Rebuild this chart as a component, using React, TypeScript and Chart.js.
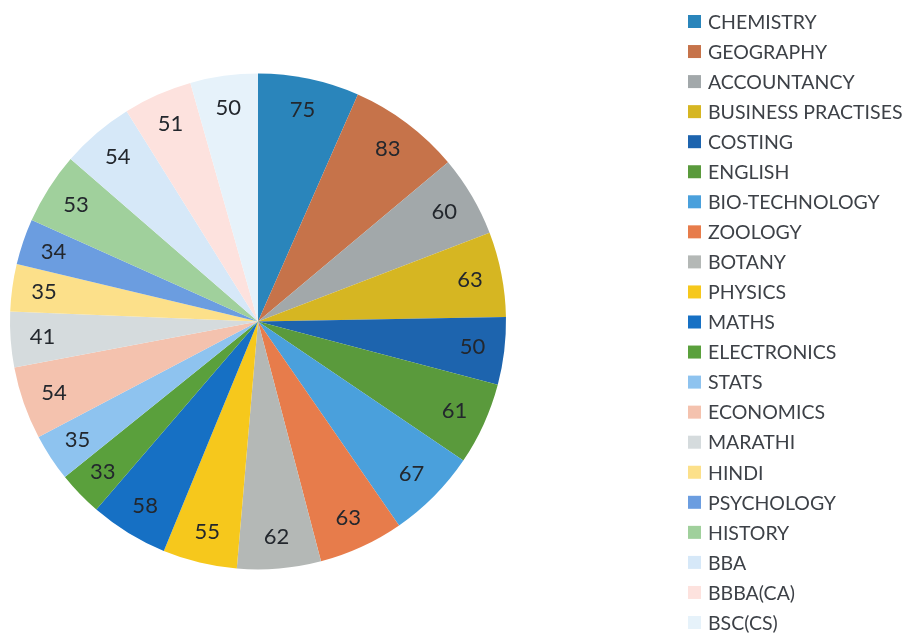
import React, { useEffect, useRef } from "react";
import { Chart, registerables } from "chart.js";

Chart.register(...registerables);

const subjects: string[] = [
  "CHEMISTRY", "GEOGRAPHY", "ACCOUNTANCY", "BUSINESS PRACTISES", "COSTING",
  "ENGLISH", "BIO-TECHNOLOGY", "ZOOLOGY", "BOTANY", "PHYSICS", "MATHS",
  "ELECTRONICS", "STATS", "ECONOMICS", "MARATHI", "HINDI", "PSYCHOLOGY",
  "HISTORY", "BBA", "BBBA(CA)", "BSC(CS)",
];

const values: number[] = [
  75, 83, 60, 63, 50, 61, 67, 63, 62, 55, 58, 33, 35, 54, 41, 35, 34, 53, 54, 51, 50,
];

const sliceColors: string[] = [
  "#2a85bb", "#c6734a", "#a2a8aa", "#d6b622", "#1d64ae", "#5a9a3c", "#4aa0dc",
  "#e77c4b", "#b4b8b6", "#f6c81c", "#1670c4", "#5aa03c", "#8ec3ef", "#f4c2ae",
  "#d5dbdd", "#fce08a", "#6b9de0", "#a0d09c", "#d6e8f8", "#fde2de", "#e6f2fa",
];

const FONT = "Lato, 'Open Sans', sans-serif";

const valueLabelPlugin = {
  id: "valueLabels",
  afterDatasetsDraw(chart: any) {
    const ctx = chart.ctx;
    const meta = chart.getDatasetMeta(0);
    const data = chart.data.datasets[0].data as number[];
    ctx.save();
    ctx.font = `22px ${FONT}`;
    ctx.fillStyle = "#23272d";
    ctx.textAlign = "center";
    ctx.textBaseline = "middle";
    meta.data.forEach((arc: any, i: number) => {
      const p = arc.getProps(["x", "y", "startAngle", "endAngle", "outerRadius"], true);
      const mid = (p.startAngle + p.endAngle) / 2;
      const r = p.outerRadius - 32;
      ctx.fillText(String(data[i]), p.x + Math.cos(mid) * r, p.y + Math.sin(mid) * r);
    });
    ctx.restore();
  },
};

const sideLegendPlugin = {
  id: "sideLegend",
  afterDraw(chart: any) {
    const ctx = chart.ctx;
    const labels = chart.data.labels as string[];
    const colors = chart.data.datasets[0].backgroundColor as string[];
    ctx.save();
    ctx.font = `19.5px ${FONT}`;
    ctx.textAlign = "left";
    ctx.textBaseline = "middle";
    labels.forEach((lab, i) => {
      const y = 21.5 + i * 30.05;
      ctx.fillStyle = colors[i];
      ctx.fillRect(688, y - 6.5, 13, 13);
      ctx.fillStyle = "#3d4147";
      ctx.fillText(lab, 708, y + 1);
    });
    ctx.restore();
  },
};

export default function App() {
  const canvasRef = useRef<HTMLCanvasElement | null>(null);

  useEffect(() => {
    if (!canvasRef.current) return;
    const chart = new Chart(canvasRef.current, {
      type: "pie",
      data: {
        labels: subjects,
        datasets: [
          {
            data: values,
            backgroundColor: sliceColors,
            borderWidth: 0,
          },
        ],
      },
      options: {
        responsive: false,
        animation: false,
        layout: {
          padding: { left: 10, top: 73, bottom: 63, right: 407 },
        },
        plugins: {
          legend: { display: false },
          tooltip: { enabled: false },
        },
      },
      plugins: [valueLabelPlugin, sideLegendPlugin],
    });
    return () => chart.destroy();
  }, []);

  return (
    <div style={{ position: "absolute", left: 0, top: 0, width: 913, height: 633, background: "#ffffff" }}>
      <canvas ref={canvasRef} width={913} height={633} />
    </div>
  );
}
